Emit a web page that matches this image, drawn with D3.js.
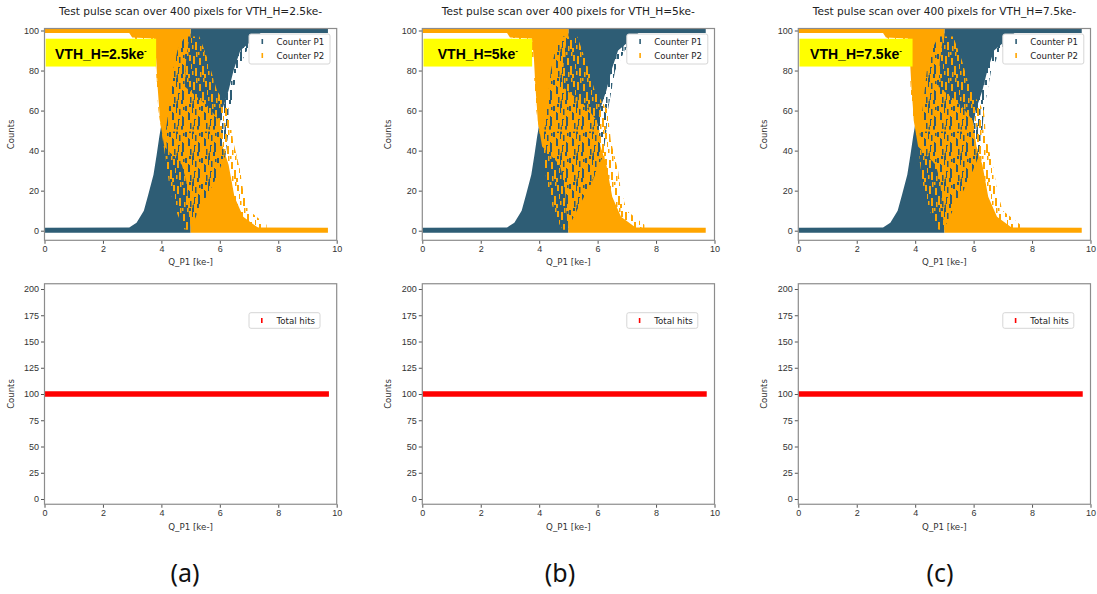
<!DOCTYPE html>
<html>
<head>
<meta charset="utf-8">
<script src="https://cdn.jsdelivr.net/npm/d3@7"></script>
<style>
  body { margin: 0; background: #fff; }
  svg { display: block; font-family: "DejaVu Sans", sans-serif; }
</style>
</head>
<body>
<svg id="chart" width="1097" height="594"></svg>
<script>
/// data ///
const thresholds = ["2.5", "5", "7.5"];
const panelLetters = ["(a)", "(b)", "(c)"];
const xTicks = [0, 2, 4, 6, 8, 10];
const yTicksTop = [0, 20, 40, 60, 80, 100];
const yTicksBottom = [0, 25, 50, 75, 100, 125, 150, 175, 200];
const qMax = 9.7;          // last charge step [ke-]
const totalHits = 100;     // P1 + P2 for every step

// envelopes: [counts, Q low, Q high]
const p1SolidA = [[-1, 0, 5.0], [1.5, 0, 5.0], [1.6, 2.9, 5.0], [4, 3.15, 5.0], [10, 3.4, 5.0], [18, 3.55, 5.1],
  [28, 3.73, 5.3], [38, 3.84, 5.6], [47, 3.93, 5.9], [53, 4.0, 6.0], [60, 4.1, 6.07], [70, 4.3, 6.3],
  [80, 4.6, 6.47], [90, 4.8, 6.7], [97, 4.95, 7.27], [98.7, 5.0, 7.4], [98.8, 5.0, 9.7], [101.5, 5.0, 9.7]];
const p2SolidA = [[-1, 5.0, 9.7], [1.5, 5.0, 9.7], [1.6, 5.0, 7.3], [7, 4.95, 6.8], [17, 4.9, 6.5], [25, 4.85, 6.4],
  [33, 4.7, 6.3], [42, 4.1, 6.1], [55, 3.95, 5.97], [62, 3.92, 5.6], [72, 3.87, 4.8], [86, 3.82, 4.85],
  [96, 3.75, 4.95], [96.5, 3.0, 5.0], [98.7, 2.9, 5.0], [98.8, 0, 5.0], [101.5, 0, 5.0]];
const p1SparseA = [[3, 4.95, 5.05], [12, 4.85, 5.35], [24, 4.6, 5.8], [38, 4.2, 6.2], [50, 4.15, 6.3],
  [60, 4.25, 6.35], [80, 4.4, 6.6], [90, 4.55, 6.93], [97, 4.8, 7.5]];
const p2SparseA = [[0.5, 4.8, 7.6], [3, 4.7, 7.6], [10, 4.5, 7.0], [20, 4.3, 6.8], [30, 4.2, 6.7], [45, 4.05, 6.45],
  [60, 3.9, 6.35], [70, 3.85, 5.9], [85, 3.8, 5.6], [97, 3.0, 5.3]];
const p2BandA = [50, 4.1, 6.0];

const panelData = [
  { p1Solid: p1SolidA, p2Solid: p2SolidA, p1Sparse: p1SparseA, p2Sparse: p2SparseA, band: p2BandA },
  { p1Solid: p1SolidA, p2Solid: p2SolidA, p1Sparse: p1SparseA, p2Sparse: p2SparseA, band: p2BandA },
  { p1Solid: p1SolidA, p2Solid: p2SolidA, p1Sparse: p1SparseA, p2Sparse: p2SparseA, band: p2BandA }
];

/// layout ///
const colP1 = "#2e5d75";
const colP2 = "#ffa500";
const lefts = [44.5, 422.3, 798.3];
const plotW = 292.2;
const topBox = { y0: 240.3, y1: 28.5 };
const botBox = { y0: 504.25, y1: 283.75 };

const svg = d3.select("#chart");
const defs = svg.append("defs");

// dash textures for the sparse parts of the scatter ('|' markers piling up)
const dashes = {
  P1: [[0, 0, 2, 9], [3, 5, 1.5, 6], [6, 12, 2, 10], [9, 2, 2, 5], [12, 8, 2, 8], [14, 19, 1.5, 6],
       [2, 15, 2, 7], [10, 17, 2, 4], [5, 22, 2, 4], [13, 0, 2, 4], [7, 3, 1.5, 4], [0.5, 21, 1.5, 5]],
  P2: [[1, 4, 2, 8], [4, 0, 1.5, 5], [7, 6, 2, 7], [10, 14, 2, 9], [13, 3, 2, 6], [3, 16, 2, 8],
       [15, 12, 1, 5], [8, 20, 1.5, 5], [12, 22, 2, 4], [0, 19, 1.5, 4], [6, 0, 1.5, 3], [11, 0, 1.5, 4]]
};
Object.entries(dashes).forEach(([k, rects]) => {
  defs.append("pattern").attr("id", "dash" + k)
    .attr("patternUnits", "userSpaceOnUse").attr("width", 16).attr("height", 26)
    .selectAll("rect").data(rects).join("rect")
      .attr("x", d => d[0]).attr("y", d => d[1]).attr("width", d => d[2]).attr("height", d => d[3])
      .attr("fill", k === "P1" ? colP1 : colP2);
});

const axisStyle = g => {
  g.select(".domain").remove();
  g.selectAll(".tick line").attr("stroke", "#555");
  g.selectAll(".tick text").attr("fill", "#333").attr("font-size", 9);
};

lefts.forEach((left, i) => {
  const x = d3.scaleLinear().domain([0, 10]).range([left, left + plotW]);
  const yT = d3.scaleLinear().domain([-4.8, 101]).range([topBox.y0, topBox.y1]);
  const yB = d3.scaleLinear().domain([-5, 205]).range([botBox.y0, botBox.y1]);
  const d = panelData[i];

  // clip paths
  defs.append("clipPath").attr("id", "clipT" + i).append("rect")
    .attr("x", left).attr("y", topBox.y1).attr("width", plotW).attr("height", topBox.y0 - topBox.y1);
  defs.append("clipPath").attr("id", "clipB" + i).append("rect")
    .attr("x", left).attr("y", botBox.y1).attr("width", plotW).attr("height", botBox.y0 - botBox.y1);

  /// top: scatter of counters ///
  const area = d3.area().y(r => yT(r[0])).x0(r => x(r[1])).x1(r => x(r[2]));
  const gT = svg.append("g").attr("clip-path", `url(#clipT${i})`);
  gT.append("path").attr("d", area(d.p1Solid)).attr("fill", colP1);
  gT.append("path").attr("d", area(d.p2Solid)).attr("fill", colP2);
  gT.append("path").attr("d", area(d.p1Sparse)).attr("fill", "url(#dashP1)");
  gT.append("path").attr("d", area(d.p2Sparse)).attr("fill", "url(#dashP2)");
  gT.append("rect")
    .attr("x", x(d.band[1])).attr("width", x(d.band[2]) - x(d.band[1]))
    .attr("y", yT(d.band[0]) - 1).attr("height", 2).attr("fill", colP2);

  // axes
  svg.append("g").attr("transform", `translate(${left},0)`)
    .call(d3.axisLeft(yT).tickValues(yTicksTop).tickSize(3.5).tickPadding(2)).call(axisStyle);
  svg.append("g").attr("transform", `translate(0,${topBox.y0})`)
    .call(d3.axisBottom(x).tickValues(xTicks).tickSize(3.5).tickPadding(2)).call(axisStyle);
  svg.append("rect").attr("x", left).attr("y", topBox.y1).attr("width", plotW).attr("height", topBox.y0 - topBox.y1)
    .attr("fill", "none").attr("stroke", "#8c8c8c").attr("stroke-width", 1.2);

  svg.append("text").attr("x", left + plotW / 2).attr("y", 15).attr("text-anchor", "middle")
    .attr("font-size", 10.6).attr("fill", "#222")
    .text(`Test pulse scan over 400 pixels for VTH_H=${thresholds[i]}ke-`);
  svg.append("text").attr("transform", `translate(${left - 31},${(topBox.y0 + topBox.y1) / 2}) rotate(-90)`)
    .attr("text-anchor", "middle").attr("font-size", 8.5).attr("fill", "#333").text("Counts");
  svg.append("text").attr("x", left + plotW / 2).attr("y", topBox.y0 + 25).attr("text-anchor", "middle")
    .attr("font-size", 8.7).attr("fill", "#333").text("Q_P1 [ke-]");

  // legend
  const lg = svg.append("g").attr("transform", `translate(${left + 204.5},34)`);
  lg.append("rect").attr("width", 81).attr("height", 30).attr("rx", 2)
    .attr("fill", "#fff").attr("stroke", "#d6d6d6");
  [["Counter P1", colP1], ["Counter P2", colP2]].forEach(([name, c], k) => {
    lg.append("rect").attr("x", 12.5).attr("y", 5 + k * 14).attr("width", 1.6).attr("height", 5).attr("fill", c);
    lg.append("text").attr("x", 27.5).attr("y", 10.8 + k * 14).attr("font-size", 8.6).attr("fill", "#222").text(name);
  });

  // yellow threshold label
  const boxX0 = x(0.04), boxX1 = x(i === 0 ? 3.82 : i === 1 ? 3.76 : 3.91);
  svg.append("rect").attr("x", boxX0).attr("y", yT(95.9)).attr("width", boxX1 - boxX0)
    .attr("height", yT(82) - yT(95.9)).attr("fill", "#ffff00");
  const lab = svg.append("text").attr("x", (boxX0 + boxX1) / 2).attr("y", 58.5).attr("text-anchor", "middle")
    .attr("font-family", "Liberation Sans, Arial, sans-serif").attr("font-weight", "bold")
    .attr("font-size", 14).attr("fill", "#000");
  lab.append("tspan").text(`VTH_H=${thresholds[i]}ke`);
  lab.append("tspan").attr("dy", -6).attr("font-size", 8).text("-");

  /// bottom: total hits ///
  const gB = svg.append("g").attr("clip-path", `url(#clipB${i})`);
  gB.append("line").attr("x1", x(0)).attr("x2", x(qMax) + 1)
    .attr("y1", yB(totalHits)).attr("y2", yB(totalHits))
    .attr("stroke", "#ff0000").attr("stroke-width", 5.3);

  svg.append("g").attr("transform", `translate(${left},0)`)
    .call(d3.axisLeft(yB).tickValues(yTicksBottom).tickSize(3.5).tickPadding(2)).call(axisStyle);
  svg.append("g").attr("transform", `translate(0,${botBox.y0})`)
    .call(d3.axisBottom(x).tickValues(xTicks).tickSize(3.5).tickPadding(2)).call(axisStyle);
  svg.append("rect").attr("x", left).attr("y", botBox.y1).attr("width", plotW).attr("height", botBox.y0 - botBox.y1)
    .attr("fill", "none").attr("stroke", "#8c8c8c").attr("stroke-width", 1.2);
  svg.append("text").attr("transform", `translate(${left - 31},${(botBox.y0 + botBox.y1) / 2}) rotate(-90)`)
    .attr("text-anchor", "middle").attr("font-size", 8.5).attr("fill", "#333").text("Counts");
  svg.append("text").attr("x", left + plotW / 2).attr("y", botBox.y0 + 26).attr("text-anchor", "middle")
    .attr("font-size", 8.7).attr("fill", "#333").text("Q_P1 [ke-]");

  const lb = svg.append("g").attr("transform", `translate(${left + 204.5},312.7)`);
  lb.append("rect").attr("width", 71).attr("height", 15.6).attr("rx", 2)
    .attr("fill", "#fff").attr("stroke", "#d6d6d6");
  lb.append("rect").attr("x", 12).attr("y", 5.3).attr("width", 1.6).attr("height", 5).attr("fill", "#ff0000");
  lb.append("text").attr("x", 27.5).attr("y", 11).attr("font-size", 8.6).attr("fill", "#222").text("Total hits");

  // panel letter
  svg.append("text").attr("x", [185, 560, 940][i]).attr("y", 582).attr("text-anchor", "middle")
    .attr("font-family", "Noto Sans, sans-serif").attr("font-size", 25).attr("fill", "#111")
    .text(panelLetters[i]);
});
</script>
</body>
</html>
